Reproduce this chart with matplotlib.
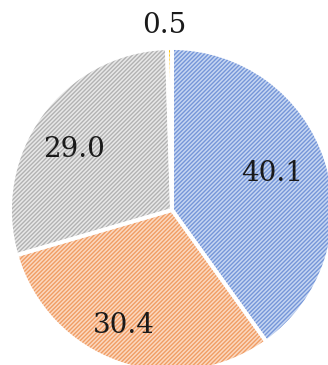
import matplotlib.pyplot as plt
import numpy as np

values = [40.1, 30.4, 29.0, 0.5]
fills = ['#c6d6f2', '#fbd8c0', '#e8e8e8', '#ffe699']
hatch_colors = ['#7596d8', '#f09d64', '#b2b2b2', '#ffc000']
label_radius = [0.66, 0.77, 0.71, 1.14]
label_shift = [2.3, -3.5, 4.0, 1.5]  # degrees off the wedge middle

plt.rcParams['hatch.linewidth'] = 1.0

fig = plt.figure(figsize=(3.28, 3.65), dpi=100)
ax = fig.add_axes([0, 0, 1, 1])

# filled and hatched wedges
wedges, _ = ax.pie(values, startangle=90, counterclock=False,
                   colors=fills, radius=1.0,
                   wedgeprops=dict(linewidth=0, hatch='////////'))
for w, hc in zip(wedges, hatch_colors):
    w.set_edgecolor(hc)

# white separators on top
ax.pie(values, startangle=90, counterclock=False, radius=1.0,
       wedgeprops=dict(fill=False, edgecolor='white', linewidth=2.8))

for w, v, r, d in zip(wedges, values, label_radius, label_shift):
    ang = np.deg2rad((w.theta1 + w.theta2) / 2 + d)
    ax.text(r * np.cos(ang), r * np.sin(ang), f'{v:.1f}',
            ha='center', va='center', fontsize=20,
            family='DejaVu Serif', color='#1a1a1a')

# pie centre sits at (172, 210) px with a 162 px radius
ax.set_xlim(-172 / 162, (328 - 172) / 162)
ax.set_ylim(-(365 - 210) / 162, 210 / 162)
ax.set_aspect('auto')
ax.axis('off')

fig.savefig('out.png', dpi=100)
